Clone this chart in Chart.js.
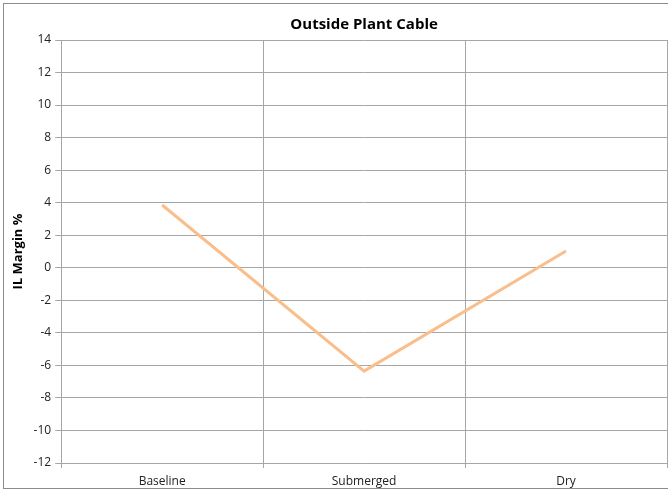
<!DOCTYPE html>
<html>
<head>
<meta charset="utf-8">
<script src="https://cdn.jsdelivr.net/npm/chart.js@4.4.1/dist/chart.umd.min.js"></script>
<style>
  html, body { margin: 0; padding: 0; background: #fff; }
  #wrap { width: 668px; height: 491px; position: relative; }
</style>
</head>
<body>
<div id="wrap"><canvas id="ilChart" width="668" height="491"></canvas></div>
<script>
  // data
  const categories = ['Baseline', 'Submerged', 'Dry'];
  const ilMargin = [3.86, -6.35, 1.03];
  const yMin = -12, yMax = 14, yStep = 2;
  const chartTitle = 'Outside Plant Cable';
  const yTitle = 'IL Margin %';

  // white background, outer frame and centred title
  const frame = {
    id: 'frame',
    beforeDraw(chart) {
      const c = chart.ctx;
      c.save();
      c.fillStyle = '#fff';
      c.fillRect(0, 0, chart.width, chart.height);
      c.restore();
    },
    afterDraw(chart) {
      const c = chart.ctx;
      const a = chart.chartArea;
      c.save();
      c.strokeStyle = '#8c8c8c';
      c.lineWidth = 1;
      c.strokeRect(3.5, 3.5, chart.width + 10, chart.height - 6);
      c.fillStyle = '#000';
      c.font = 'bold 15px "Open Sans", "Liberation Sans", sans-serif';
      c.textAlign = 'center';
      c.textBaseline = 'middle';
      c.fillText(chartTitle, (a.left + a.right) / 2, 24.5);
      c.restore();
    }
  };

  document.addEventListener('DOMContentLoaded', function() {
    const ctx = document.getElementById('ilChart').getContext('2d');
    new Chart(ctx, {
      type: 'line',
      data: {
        labels: categories,
        datasets: [{
          label: yTitle,
          data: ilMargin,
          borderColor: '#f9be8c',
          borderWidth: 3,
          pointRadius: 0,
          pointHoverRadius: 0,
          tension: 0,
          fill: false
        }]
      },
      options: {
        responsive: false,
        animation: false,
        layout: { padding: { top: 40, right: 1, bottom: 0, left: 10 } },
        plugins: {
          legend: { display: false },
          tooltip: { enabled: false }
        },
        scales: {
          x: {
            offset: true,
            afterFit(scale) { scale.height = 28; },
            grid: {
              offset: true,
              color: '#a6a6a6',
              tickLength: 5,
              drawTicks: true
            },
            border: { color: '#a6a6a6' },
            ticks: {
              color: '#222',
              padding: 9,
              font: { family: '"Open Sans", "Liberation Sans", sans-serif', size: 12, lineHeight: 0.75 }
            }
          },
          y: {
            min: yMin,
            max: yMax,
            ticks: {
              stepSize: yStep,
              color: '#222',
              padding: 4,
              font: { family: '"Open Sans", "Liberation Sans", sans-serif', size: 12 }
            },
            grid: {
              color: '#a6a6a6',
              tickLength: 6
            },
            border: { color: '#a6a6a6' },
            title: {
              display: true,
              text: yTitle,
              color: '#000',
              padding: { top: 0, bottom: 4 },
              font: { family: '"Open Sans", "Liberation Sans", sans-serif', size: 13, weight: 'bold' }
            }
          }
        }
      },
      plugins: [frame]
    });
  });
</script>
</body>
</html>
